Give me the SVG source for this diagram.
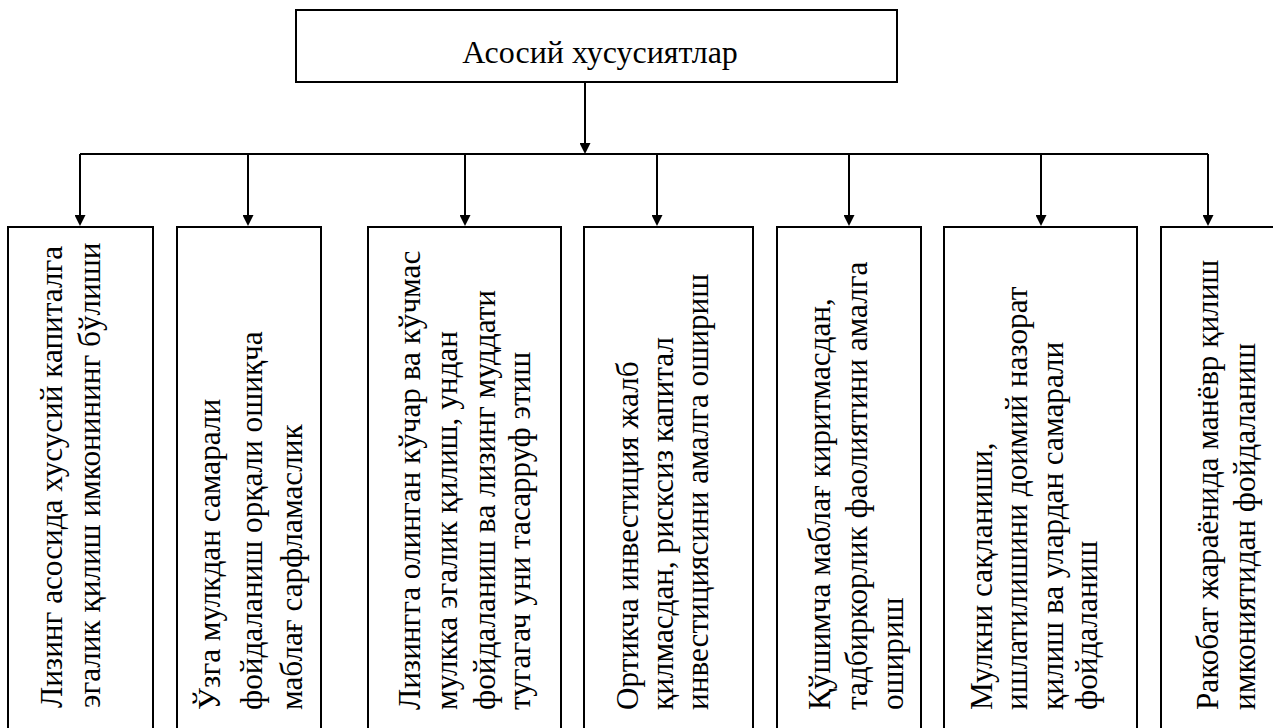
<svg xmlns="http://www.w3.org/2000/svg" width="1273" height="728" viewBox="0 0 1273 728">
<style>
  .box { fill: #ffffff; stroke: #000000; stroke-width: 2; }
  .lbl { font-family: "Liberation Serif", "Times New Roman", serif; font-size: 31.2px; fill: #000000; }
  .top { font-size: 32px; }
  .conn { fill: none; stroke: #000000; stroke-width: 2; }
</style>
<defs>
  <marker id="arr" viewBox="0 0 11 11" markerWidth="11" markerHeight="11" markerUnits="userSpaceOnUse" refX="0" refY="5.5" orient="auto">
    <path d="M0,0 L11,5.5 L0,11 z" fill="#000000"/>
  </marker>
</defs>
<rect x="0" y="0" width="1273" height="728" fill="#ffffff"/>

<g id="connectors">
  <path class="conn" d="M585,82 V143" marker-end="url(#arr)"/>
  <path class="conn" d="M80,154 H1208"/>
  <path class="conn" d="M80,154 V215" marker-end="url(#arr)"/>
  <path class="conn" d="M248,154 V215" marker-end="url(#arr)"/>
  <path class="conn" d="M465,154 V215" marker-end="url(#arr)"/>
  <path class="conn" d="M657,154 V215" marker-end="url(#arr)"/>
  <path class="conn" d="M849,154 V215" marker-end="url(#arr)"/>
  <path class="conn" d="M1041,154 V215" marker-end="url(#arr)"/>
  <path class="conn" d="M1208,154 V215" marker-end="url(#arr)"/>
</g>

<g id="root">
  <rect class="box" x="296" y="10" width="601" height="72"/>
  <text class="lbl top" x="600" y="63" text-anchor="middle">Асосий хусусиятлар</text>
</g>

<g id="n1">
  <rect class="box" x="8" y="227" width="145" height="520"/>
  <text class="lbl" transform="translate(62,708) rotate(-90)">Лизинг асосида хусусий капиталга</text>
  <text class="lbl" transform="translate(100,708) rotate(-90)">эгалик қилиш имконининг бўлиши</text>
</g>

<g id="n2">
  <rect class="box" x="177" y="227" width="144" height="520"/>
  <text class="lbl" transform="translate(220,710) rotate(-90)">Ўзга мулкдан самарали</text>
  <text class="lbl" transform="translate(262,710) rotate(-90)">фойдаланиш орқали ошиқча</text>
  <text class="lbl" transform="translate(302,710) rotate(-90)">маблағ сарфламаслик</text>
</g>

<g id="n3">
  <rect class="box" x="368" y="227" width="193" height="520"/>
  <text class="lbl" transform="translate(420,710) rotate(-90)">Лизингга олинган кўчар ва кўчмас</text>
  <text class="lbl" transform="translate(457,710) rotate(-90)">мулкка эгалик қилиш, ундан</text>
  <text class="lbl" transform="translate(495,710) rotate(-90)">фойдаланиш ва лизинг муддати</text>
  <text class="lbl" transform="translate(530,710) rotate(-90)">тугагач уни тасарруф этиш</text>
</g>

<g id="n4">
  <rect class="box" x="584" y="227" width="169" height="520"/>
  <text class="lbl" transform="translate(638,710) rotate(-90)">Ортикча инвестиция жалб</text>
  <text class="lbl" transform="translate(673,710) rotate(-90)">қилмасдан, рисксиз капитал</text>
  <text class="lbl" transform="translate(708,710) rotate(-90)">инвестициясини амалга ошириш</text>
</g>

<g id="n5">
  <rect class="box" x="777" y="227" width="144" height="520"/>
  <text class="lbl" transform="translate(830,710) rotate(-90)">Қўшимча маблағ киритмасдан,</text>
  <text class="lbl" transform="translate(867,710) rotate(-90)">тадбиркорлик фаолиятини амалга</text>
  <text class="lbl" transform="translate(903,710) rotate(-90)">ошириш</text>
</g>

<g id="n6">
  <rect class="box" x="944" y="227" width="193" height="520"/>
  <text class="lbl" transform="translate(992,710) rotate(-90)">Мулкни сақланиши,</text>
  <text class="lbl" transform="translate(1027,710) rotate(-90)">ишлатилишини доимий назорат</text>
  <text class="lbl" transform="translate(1063,710) rotate(-90)">қилиш ва улардан самарали</text>
  <text class="lbl" transform="translate(1097,710) rotate(-90)">фойдаланиш</text>
</g>

<g id="n7">
  <rect class="box" x="1161" y="227" width="130" height="520"/>
  <text class="lbl" transform="translate(1218,710) rotate(-90)">Ракобат жараёнида манёвр қилиш</text>
  <text class="lbl" transform="translate(1255,710) rotate(-90)">имкониятидан фойдаланиш</text>
</g>
</svg>
